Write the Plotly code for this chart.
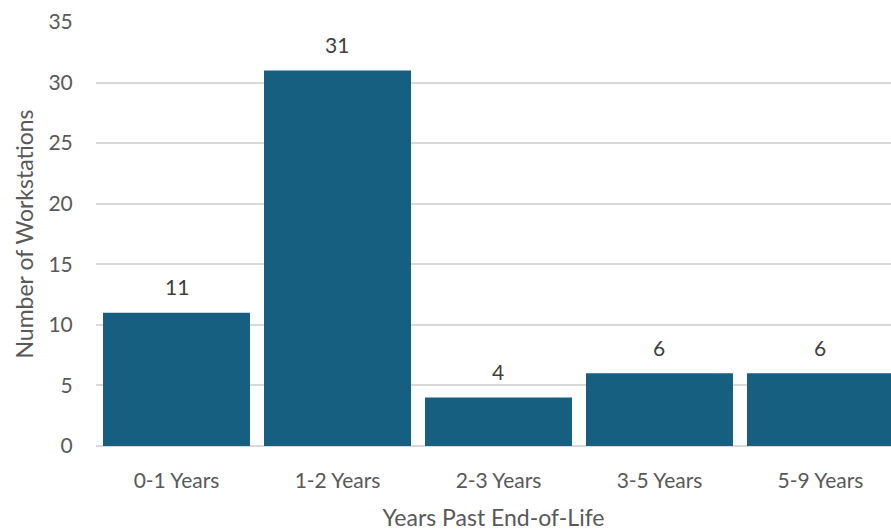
import plotly.graph_objects as go

categories = ["0-1 Years", "1-2 Years", "2-3 Years", "3-5 Years", "5-9 Years"]
values = [11, 31, 4, 6, 6]
y_ticks = [0, 5, 10, 15, 20, 25, 30, 35]

FONT = "Lato, 'Open Sans', sans-serif"

fig = go.Figure(go.Bar(
    x=categories,
    y=values,
    marker=dict(color="#175F80", line=dict(width=0)),
))

for c, v in zip(categories, values):
    fig.add_annotation(
        x=c, y=v, text=str(v), showarrow=False, yshift=26,
        font=dict(family=FONT, size=21, color="#404040"),
    )

fig.update_layout(
    width=891, height=531,
    margin=dict(l=96, r=0, t=22, b=85),
    plot_bgcolor="white", paper_bgcolor="white",
    bargap=0.087,
    showlegend=False,
    font=dict(family=FONT, color="#595959"),
)
fig.update_xaxes(
    range=[-0.5, 4.438], automargin=False,
    showgrid=False, showline=False, zeroline=False,
    ticks="outside", ticklen=16, tickcolor="rgba(0,0,0,0)",
    tickfont=dict(size=21, color="#595959"),
    title=dict(text="Years Past End-of-Life", font=dict(size=23, color="#595959"), standoff=26),
)
fig.update_yaxes(
    range=[0, 35], tickvals=y_ticks, automargin=False,
    showgrid=True, gridcolor="#D9D9D9", gridwidth=1.5,
    zeroline=True, zerolinecolor="#D9D9D9", zerolinewidth=1.5,
    showline=False, ticks="outside", ticklen=18, tickcolor="rgba(0,0,0,0)",
    tickfont=dict(size=21, color="#595959"),
    title=dict(text="Number of Workstations", font=dict(size=23, color="#595959"), standoff=8),
)

fig.write_html("out.html")
